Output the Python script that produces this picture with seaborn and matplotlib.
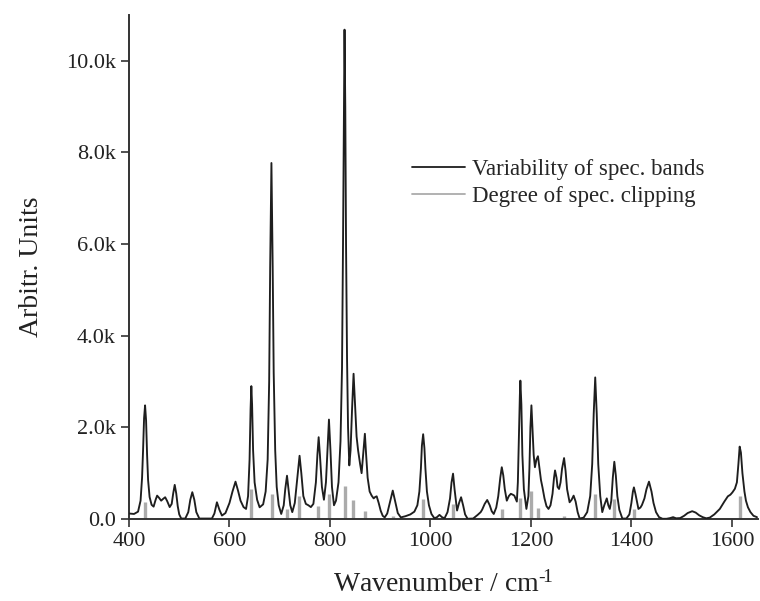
import matplotlib
matplotlib.use("Agg")
import matplotlib.pyplot as plt
import seaborn as sns
import pandas as pd
from matplotlib.ticker import FuncFormatter, FixedLocator
from matplotlib.lines import Line2D

# ---- data ----
wavenumber = [
    400, 410, 418, 423, 426, 428, 430, 432, 434, 436, 438, 441, 445, 449, 453, 456, 460, 464, 468, 472,
    476, 481, 485, 488, 491, 494, 497, 500, 504, 512, 518, 522, 526, 530, 534, 540, 565, 570, 575, 580,
    585, 592, 600, 606, 612, 617, 622, 628, 633, 637, 640, 642, 643.5, 645, 647, 650, 655, 660, 667, 672,
    676, 679, 681, 683.5, 686, 688, 691, 694, 698, 703, 708, 711, 714.5, 717, 721, 725, 730, 735, 739.5, 743,
    747, 752, 757, 762, 767, 772, 775, 777.5, 780, 784, 788, 792, 795, 798, 801, 804, 808, 812, 817, 821,
    824, 826, 828, 829, 830.5, 832, 834, 836, 838.5, 841, 844, 847, 850, 853, 856, 860, 863, 866, 869.5, 872,
    875, 879, 883, 887, 890, 893, 897, 901, 905, 909, 914, 919, 925, 930, 935, 941, 950, 960, 968, 974,
    978, 981, 983, 985.5, 988, 990, 993, 997, 1002, 1008, 1013, 1018, 1023, 1028, 1034, 1039, 1042, 1045, 1048, 1053,
    1057, 1061, 1065, 1069, 1074, 1085, 1094, 1100, 1103, 1108, 1113, 1118, 1122, 1126, 1131, 1135, 1139, 1142, 1145, 1148,
    1152, 1156, 1160, 1164, 1167, 1170, 1172, 1174, 1176, 1178, 1179, 1181, 1183, 1186, 1191, 1195, 1197, 1199, 1201, 1203,
    1205.5, 1208, 1211, 1214, 1217, 1220, 1223, 1227, 1231, 1235, 1239, 1243, 1246, 1248, 1251, 1253, 1256, 1259, 1262, 1266,
    1269, 1272, 1277, 1281, 1285, 1289, 1293, 1297, 1305, 1312, 1318, 1322, 1325, 1328, 1331, 1334, 1338, 1342, 1346, 1351,
    1354, 1357, 1360, 1363, 1366, 1369, 1372, 1376, 1382, 1390, 1396, 1400, 1403, 1405, 1408, 1414, 1418, 1421, 1426, 1430,
    1435, 1440, 1444, 1449, 1455, 1462, 1470, 1477, 1483, 1489, 1497, 1505, 1512, 1521, 1528, 1535, 1542, 1549, 1556, 1565,
    1576, 1585, 1592, 1597, 1601, 1606, 1610, 1613, 1615.5, 1618, 1621, 1625, 1628, 1632, 1637, 1643, 1650,
]
variability = [
    120, 110, 160, 400, 900, 1500, 2200, 2480, 2150, 1400, 850, 480, 310, 270, 420, 510, 460, 400, 440, 475,
    390, 260, 330, 560, 745, 560, 280, 100, 10, 10, 150, 420, 585, 420, 150, 10, 10, 120, 365, 200,
    75, 130, 350, 600, 815, 620, 400, 260, 220, 500, 1300, 2400, 2900, 2500, 1500, 800, 420, 255, 320, 600,
    1300, 3000, 5500, 7770, 5500, 3200, 1500, 700, 300, 110, 300, 650, 945, 700, 300, 150, 350, 900, 1380, 1000,
    500, 330, 300, 260, 330, 800, 1400, 1785, 1400, 700, 420, 800, 1500, 2170, 1500, 700, 300, 400, 800, 1700,
    3300, 6000, 9300, 10680, 9000, 6000, 3500, 2000, 1170, 1500, 2400, 3170, 2500, 1800, 1500, 1200, 1000, 1400, 1860, 1400,
    900, 600, 510, 450, 480, 495, 350, 180, 70, 35, 120, 350, 620, 380, 130, 35, 60, 100, 160, 300,
    600, 1100, 1600, 1850, 1550, 1100, 600, 300, 110, 15, 40, 90, 40, 15, 150, 450, 800, 990, 650, 185,
    350, 475, 300, 100, 5, 10, 90, 150, 205, 330, 415, 300, 170, 110, 250, 500, 900, 1130, 950, 650,
    400, 500, 550, 530, 510, 430, 380, 800, 1800, 2700, 3020, 2500, 1400, 650, 220, 500, 1100, 2000, 2480, 2000,
    1400, 1130, 1300, 1370, 1100, 850, 690, 450, 280, 220, 300, 550, 900, 1060, 900, 700, 655, 800, 1100, 1330,
    1050, 650, 365, 420, 510, 380, 150, 10, 30, 150, 500, 1200, 2300, 3090, 2300, 1200, 500, 150, 300, 450,
    300, 220, 400, 900, 1250, 950, 500, 200, 10, 10, 100, 350, 600, 690, 550, 220, 250, 305, 450, 650,
    815, 600, 350, 150, 40, 5, 5, 20, 40, 15, 20, 70, 130, 170, 140, 80, 40, 15, 30, 100,
    220, 380, 495, 530, 580, 660, 800, 1200, 1580, 1450, 1000, 600, 400, 255, 150, 70, 40,
]
clip_pos = [432, 643, 684, 714, 739, 777, 798, 829, 846, 870, 925, 985, 1045, 1142, 1178,
            1201, 1214, 1266, 1328, 1366, 1405, 1617]
clip_val = [364, 650, 546, 220, 510, 290, 546, 730, 415, 180, 75, 437, 330, 220, 450,
            620, 230, 60, 546, 437, 220, 495]
x_ticks = [400, 600, 800, 1000, 1200, 1400, 1600]
y_ticks = [0, 2000, 4000, 6000, 8000, 10000]
series_names = ["Variability of spec. bands", "Degree of spec. clipping"]

sns.set_style("ticks")
plt.rcParams["font.family"] = ["Liberation Serif", "DejaVu Serif"]
plt.rcParams["mathtext.fontset"] = "custom"
plt.rcParams["mathtext.rm"] = "Liberation Serif"
plt.rcParams["mathtext.it"] = "Liberation Serif:italic"

fig = plt.figure(figsize=(7.6, 6.01), dpi=100)
ax = fig.add_axes([129 / 760, (601 - 519) / 601, (758 - 129) / 760, (519 - 15) / 601])

spec = pd.DataFrame({"wn": wavenumber, "val": variability})
clip = pd.DataFrame({"wn": clip_pos, "val": clip_val})

black = "#1e1e1e"
gray = "#ababab"
ax.vlines(clip["wn"], 0, clip["val"], color=gray, linewidth=2.4, zorder=2)
sns.lineplot(data=spec, x="wn", y="val", estimator=None, sort=False, color=black,
             linewidth=1.35, ax=ax, zorder=3)

ax.set_xlim(400, 1652)
ax.set_ylim(0, 11000)
ax.xaxis.set_major_locator(FixedLocator(x_ticks))
ax.yaxis.set_major_locator(FixedLocator(y_ticks))
ax.yaxis.set_major_formatter(FuncFormatter(lambda v, p: "0.0" if v == 0 else f"{v/1000:.1f}k"))
ax.tick_params(axis="both", labelsize=16, length=6, width=1.2, direction="out", color="#333333",
               labelcolor="#222222")
for s in ["top", "right"]:
    ax.spines[s].set_visible(False)
for s in ["left", "bottom"]:
    ax.spines[s].set_linewidth(1.4)
    ax.spines[s].set_color("#333333")

ax.set_xlabel("Wavenumber / cm$^{\u2010\\!1}$", fontsize=20, color="#222222", labelpad=14)
ax.set_ylabel("Arbitr. Units", fontsize=20, color="#222222", labelpad=16)

handles = [Line2D([], [], color=black, linewidth=1.3), Line2D([], [], color=gray, linewidth=1.3)]
fig.legend(handles, series_names, loc="upper left", bbox_to_anchor=(401 / 760, 1 - 148 / 601),
           frameon=False, fontsize=16.5, handlelength=2.3, handletextpad=0.3,
           borderpad=0, labelspacing=0.22)

fig.savefig("out.png", dpi=100)
